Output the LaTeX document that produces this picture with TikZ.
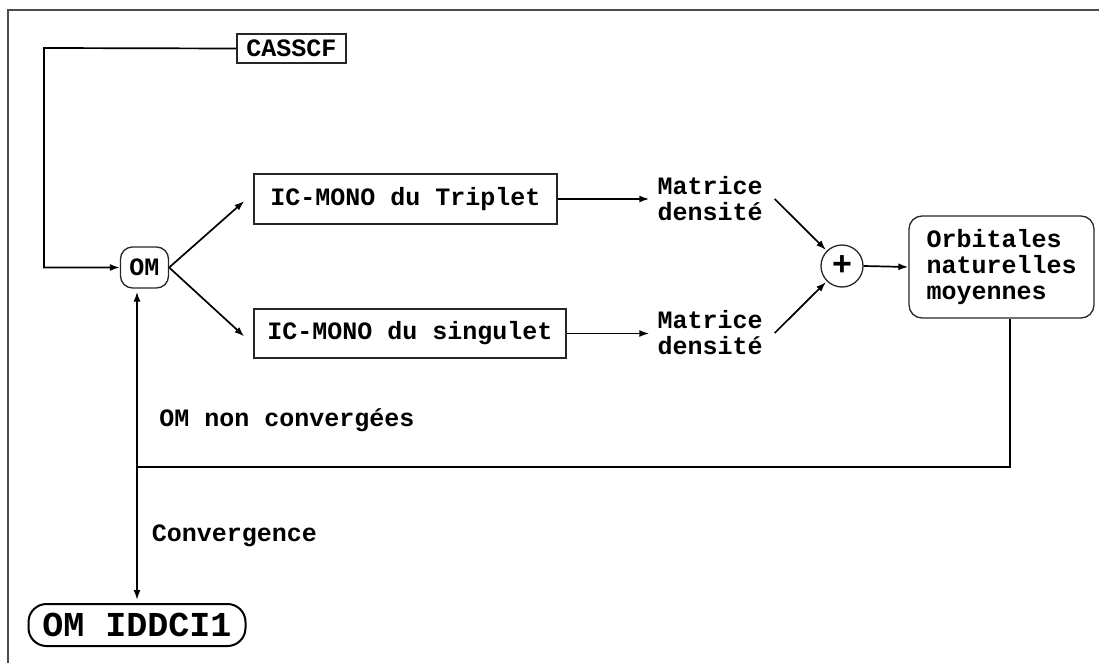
\documentclass[tikz,border=0pt]{standalone}
\usepackage{fontspec}
\setmainfont{Liberation Mono}
\usetikzlibrary{arrows.meta}
\tikzset{
  x=1pt, y=-1pt,
  txt/.style={font=\fontsize{25}{26}\selectfont\bfseries, inner sep=0pt},
  boxn/.style={txt, draw=black!85, line width=1.3pt, minimum width=#1},
  conn/.style={line width=1.7pt, black},
  arr/.style={conn, -{Latex[length=10pt,width=7pt]}},
}
\begin{document}
\begin{tikzpicture}
\useasboundingbox (0,0) rectangle (1099,663);
\draw[black!70, line width=2.5pt] (8,663) -- (8,10) -- (1099,10);

\node[boxn=109, minimum height=29] (casscf) at (291.5,48.5) {CASSCF};
\node[boxn=48, minimum height=41, rounded corners=12pt] (om) at (144.5,267.5) {OM};
\node[boxn=303, minimum height=50] (trip) at (405.5,199) {IC-MONO du Triplet};
\node[boxn=312, minimum height=49] (sing) at (410,333.5) {IC-MONO du singulet};
\node[txt, align=center] (md1) at (710,199) {Matrice\\densité};
\node[txt, align=center] (md2) at (710,333) {Matrice\\densité};
\node[draw=black!85, line width=1.3pt, circle, minimum size=42pt, inner sep=0pt,
      font=\fontsize{34}{34}\selectfont\bfseries] (plus) at (842,266) {+};
\node[boxn=185, minimum height=102, rounded corners=13pt, align=left,
      font=\fontsize{25}{26}\selectfont\bfseries] (orb) at (1001.5,267)
      {Orbitales\\naturelles\\moyennes};
\node[draw=black, line width=2pt, minimum width=217, minimum height=42, rounded corners=18pt,
      inner sep=0pt, font=\fontsize{35}{36}\selectfont\bfseries] (iddci) at (137,625) {OM IDDCI1};
\node[txt] (lnon) at (287,420) {OM non convergées};
\node[txt] (lconv) at (234.5,536) {Convergence};

\coordinate (c1) at (44,48);
\coordinate (c2) at (1010,467);
\coordinate (c3) at (137,467);

\draw[arr] (casscf.west) -- (c1) |- (om.west);
\draw[arr] (om.east) -- ([xshift=-9pt,yshift=-2pt]trip.west);
\draw[arr] (om.east) -- ([xshift=-9pt,yshift=-3pt]sing.west);
\draw[arr, shorten >=8pt] (trip.east) -- (md1.west |- trip.east);
\draw[arr, shorten >=8pt] (sing.east) -- (md2.west |- sing.east);
\draw[arr, shorten >=1pt] ([xshift=12pt]md1.east) -- (plus.north west);
\draw[arr, shorten >=1pt] ([xshift=12pt]md2.east) -- (plus.south west);
\draw[arr] (plus.east) -- (orb.west);
\draw[conn] (orb.south -| c2) -- (c2) -- (c3);
\draw[conn, {Latex[length=10pt,width=7pt]}-{Latex[length=10pt,width=7pt]}, shorten <=3pt, shorten >=3pt]
  (om.south -| iddci.north) -- (iddci.north);
\end{tikzpicture}
\end{document}
